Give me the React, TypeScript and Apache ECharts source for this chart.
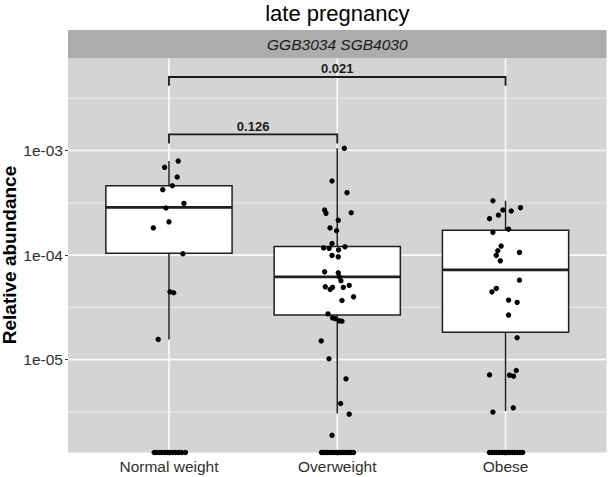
import React, { useEffect, useRef } from 'react';
import * as echarts from 'echarts';

const FONT = 'Liberation Sans, Arial, Helvetica, sans-serif';

const categories = ['Normal weight', 'Overweight', 'Obese'];

// Relative abundance per sample (0 = not detected), with horizontal jitter offsets
const normalValues = [7.93e-4, 6.91e-4, 5.58e-4, 4.6e-4, 4.22e-4, 3.12e-4, 2.82e-4, 2.08e-4, 1.82e-4, 1.03e-4, 4.45e-5, 4.36e-5, 1.56e-5, 0, 0, 0, 0, 0, 0, 0, 0, 0, 0, 0, 0];
const normalJitter = [0.055, -0.026, 0.049, 0.02, -0.037, 0.089, -0.018, 0.0, -0.093, 0.083, 0.006, 0.028, -0.064, -0.088, -0.072, -0.055, -0.041, -0.024, -0.009, 0.004, 0.022, 0.039, 0.057, 0.076, 0.098];

const overweightValues = [1.05e-3, 5.11e-4, 3.95e-4, 2.7e-4, 2.51e-4, 2.54e-4, 2.15e-4, 1.82e-4, 1.71e-4, 1.29e-4, 1.17e-4, 1.16e-4, 1.12e-4, 1.2e-4, 9.93e-5, 9.63e-5, 6.92e-5, 6.77e-5, 6.2e-5, 5.68e-5, 4.97e-5, 4.7e-5, 4.91e-5, 4.91e-5, 5.13e-5, 3.99e-5, 3.68e-5, 2.74e-5, 2.51e-5, 2.46e-5, 2.35e-5, 2.33e-5, 1.51e-5, 1.02e-5, 6.55e-6, 3.81e-6, 3.01e-6, 1.89e-6, 0, 0, 0, 0, 0, 0, 0, 0, 0, 0, 0, 0, 0, 0, 0, 0];
const overweightJitter = [0.042, -0.031, 0.058, -0.075, -0.067, 0.083, 0.006, -0.043, -0.004, -0.031, -0.081, -0.048, 0.008, 0.046, -0.031, 0.006, -0.075, 0.006, 0.012, 0.022, -0.071, -0.042, -0.028, 0.036, 0.071, 0.097, 0.028, -0.055, -0.028, -0.012, 0.012, 0.028, -0.095, -0.049, 0.052, 0.02, 0.071, -0.031, -0.094, -0.082, -0.068, -0.057, -0.043, -0.031, -0.018, -0.006, 0.008, 0.021, 0.033, 0.047, 0.06, 0.072, 0.084, 0.097];

const obeseValues = [3.31e-4, 2.7e-4, 2.64e-4, 2.84e-4, 2.41e-4, 2.23e-4, 1.77e-4, 1.65e-4, 1.22e-4, 1.1e-4, 9.93e-5, 1.06e-4, 8.82e-5, 5.76e-5, 4.8e-5, 4.45e-5, 3.71e-5, 3.53e-5, 2.67e-5, 1.62e-5, 7.15e-6, 7.1e-6, 6.95e-6, 7.88e-6, 3.15e-6, 3.46e-6, 0, 0, 0, 0, 0, 0, 0, 0, 0, 0, 0, 0, 0, 0];
const obeseJitter = [-0.075, -0.016, 0.034, 0.089, -0.042, -0.095, 0.018, -0.075, -0.026, -0.046, -0.055, 0.083, -0.031, 0.083, -0.055, -0.081, 0.018, 0.069, 0.018, 0.069, -0.095, 0.024, 0.048, 0.064, -0.075, 0.046, -0.096, -0.081, -0.066, -0.052, -0.037, -0.021, -0.006, 0.01, 0.026, 0.041, 0.055, 0.071, 0.086, 0.102];

// Boxplot statistics: [lower whisker, Q1, median, Q3, upper whisker]
const normalBox = [1.56e-5, 1.04e-4, 2.86e-4, 4.6e-4, 7.93e-4];
const overweightBox = [3.06e-6, 2.67e-5, 6.2e-5, 1.21e-4, 1.05e-3];
const obeseBox = [3.22e-6, 1.83e-5, 7.23e-5, 1.73e-4, 3.31e-4];

// Significance brackets
const bracketPairs = [[1, 2], [1, 3]];
const bracketLevels = [1.43e-3, 5.05e-3];
const bracketTickEnds = [1.17e-3, 4.17e-3];
const bracketLabels = ['0.126', '0.021'];

// Axis
const yMajorTicks = [1e-5, 1e-4, 1e-3];
const yTickLabels = ['1e-05', '1e-04', '1e-03'];
const yMinorLogs = [-5.5, -4.5, -3.5, -2.5];
const yLogRange = [-5.888, -2.118];

const lg = (v: number) => (v > 0 ? Math.log10(v) : yLogRange[0]);

function buildOption() {
  const groups = [
    { values: normalValues, jitter: normalJitter },
    { values: overweightValues, jitter: overweightJitter },
    { values: obeseValues, jitter: obeseJitter },
  ];
  const pointData: number[][] = [];
  groups.forEach((g, i) => {
    g.values.forEach((v, j) => pointData.push([i + 1 + g.jitter[j], lg(v)]));
  });
  const boxData = [normalBox, overweightBox, obeseBox].map((b, i) => [i + 1, ...b.map(lg)]);
  const majorLogs = yMajorTicks.map((v) => Math.log10(v));
  const gridData: number[][] = [
    ...majorLogs.map((v) => [0, v]),
    ...yMinorLogs.map((v) => [1, v]),
    ...categories.map((_, i) => [2, i + 1]),
  ];
  const bracketData = bracketPairs.map((p, i) => [p[0], p[1], lg(bracketLevels[i]), lg(bracketTickEnds[i])]);

  return {
    animation: false,
    grid: {
      left: 68,
      right: 1.5,
      top: 58.3,
      bottom: 24.5,
      show: true,
      backgroundColor: '#d4d4d4',
      borderWidth: 0,
    },
    xAxis: {
      type: 'value',
      min: 0.4,
      max: 3.6,
      axisLine: { show: false },
      splitLine: { show: false },
      axisTick: { show: true, customValues: [1, 2, 3], length: 3, lineStyle: { color: '#333', width: 1 } },
      axisLabel: {
        customValues: [1, 2, 3],
        formatter: (v: number) => categories[Math.round(v) - 1] ?? '',
        color: '#2e2e2e',
        fontSize: 15.5,
        fontFamily: FONT,
        margin: 6,
      },
    },
    yAxis: {
      type: 'value',
      min: yLogRange[0],
      max: yLogRange[1],
      axisLine: { show: false },
      splitLine: { show: false },
      axisTick: { show: true, customValues: majorLogs, length: 3, lineStyle: { color: '#333', width: 1 } },
      axisLabel: {
        customValues: majorLogs,
        formatter: (v: number) => {
          const idx = majorLogs.findIndex((m) => Math.abs(m - v) < 1e-6);
          return idx >= 0 ? yTickLabels[idx] : '';
        },
        color: '#2e2e2e',
        fontSize: 15.5,
        fontFamily: FONT,
        margin: 5,
      },
    },
    graphic: [
      {
        type: 'text',
        x: 337.3,
        y: 13.6,
        style: { text: 'late pregnancy', fill: '#000', font: `22px ${FONT}`, align: 'center', verticalAlign: 'middle' },
      },
      {
        type: 'rect',
        shape: { x: 68, y: 30, width: 538.5, height: 28.3 },
        style: { fill: '#acacac' },
      },
      {
        type: 'text',
        x: 337.3,
        y: 44.2,
        style: { text: 'GGB3034 SGB4030', fill: '#1a1a1a', font: `italic 15.5px ${FONT}`, align: 'center', verticalAlign: 'middle' },
      },
      {
        type: 'text',
        x: 9,
        y: 255,
        rotation: Math.PI / 2,
        style: { text: 'Relative abundance', fill: '#000', font: `bold 19px ${FONT}`, align: 'center', verticalAlign: 'middle' },
      },
    ],
    series: [
      {
        type: 'custom',
        z: 1,
        silent: true,
        data: gridData,
        encode: { x: -1, y: -1 },
        renderItem: (params: any, api: any) => {
          const cs = params.coordSys;
          const kind = api.value(0);
          const v = api.value(1);
          if (kind === 2) {
            const px = api.coord([v, yLogRange[0]])[0];
            return { type: 'line', shape: { x1: px, y1: cs.y, x2: px, y2: cs.y + cs.height }, style: { stroke: '#fafafa', lineWidth: 1.6 } };
          }
          const py = api.coord([1, v])[1];
          return {
            type: 'line',
            shape: { x1: cs.x, y1: py, x2: cs.x + cs.width, y2: py },
            style: { stroke: kind === 0 ? '#fafafa' : '#ececec', lineWidth: kind === 0 ? 1.6 : 1.0 },
          };
        },
      },
      {
        type: 'custom',
        z: 2,
        data: boxData,
        encode: { x: 0, y: [1, 2, 3, 4, 5] },
        renderItem: (params: any, api: any) => {
          const x = api.value(0);
          const p = (yv: number) => api.coord([x, yv]);
          const lo = p(api.value(1));
          const q1 = p(api.value(2));
          const med = p(api.value(3));
          const q3 = p(api.value(4));
          const hi = p(api.value(5));
          const left = api.coord([x - 0.375, 0])[0];
          const right = api.coord([x + 0.375, 0])[0];
          const stroke = '#1f1f1f';
          return {
            type: 'group',
            children: [
              { type: 'line', shape: { x1: q3[0], y1: q3[1], x2: hi[0], y2: hi[1] }, style: { stroke, lineWidth: 1.5 } },
              { type: 'line', shape: { x1: lo[0], y1: lo[1], x2: q1[0], y2: q1[1] }, style: { stroke, lineWidth: 1.5 } },
              { type: 'rect', shape: { x: left, y: q3[1], width: right - left, height: q1[1] - q3[1] }, style: { fill: '#ffffff', stroke, lineWidth: 1.5 } },
              { type: 'line', shape: { x1: left, y1: med[1], x2: right, y2: med[1] }, style: { stroke, lineWidth: 2.7 } },
            ],
          };
        },
      },
      {
        type: 'scatter',
        z: 3,
        symbol: 'circle',
        symbolSize: 5.4,
        itemStyle: { color: '#000', opacity: 1 },
        data: pointData,
      },
      {
        type: 'custom',
        z: 4,
        data: bracketData,
        encode: { x: [0, 1], y: [2, 3] },
        renderItem: (params: any, api: any) => {
          const i = params.dataIndex;
          const a = api.coord([api.value(0), api.value(2)]);
          const b = api.coord([api.value(1), api.value(2)]);
          const e = api.coord([api.value(0), api.value(3)])[1];
          return {
            type: 'group',
            children: [
              {
                type: 'polyline',
                shape: { points: [[a[0], e], [a[0], a[1]], [b[0], b[1]], [b[0], e]] },
                style: { stroke: '#1a1a1a', lineWidth: 1.8, fill: 'none' },
              },
              {
                type: 'text',
                x: (a[0] + b[0]) / 2,
                y: a[1] - 8.2,
                style: { text: bracketLabels[i], fill: '#1a1a1a', font: `bold 13px ${FONT}`, align: 'center', verticalAlign: 'middle' },
              },
            ],
          };
        },
      },
    ],
  };
}

export default function App() {
  const ref = useRef<HTMLDivElement>(null);
  useEffect(() => {
    const chart = echarts.init(ref.current as HTMLDivElement, null, { renderer: 'svg' });
    chart.setOption(buildOption() as any);
    return () => chart.dispose();
  }, []);
  return <div ref={ref} style={{ position: 'absolute', left: 0, top: 0, width: 608, height: 477 }} />;
}
